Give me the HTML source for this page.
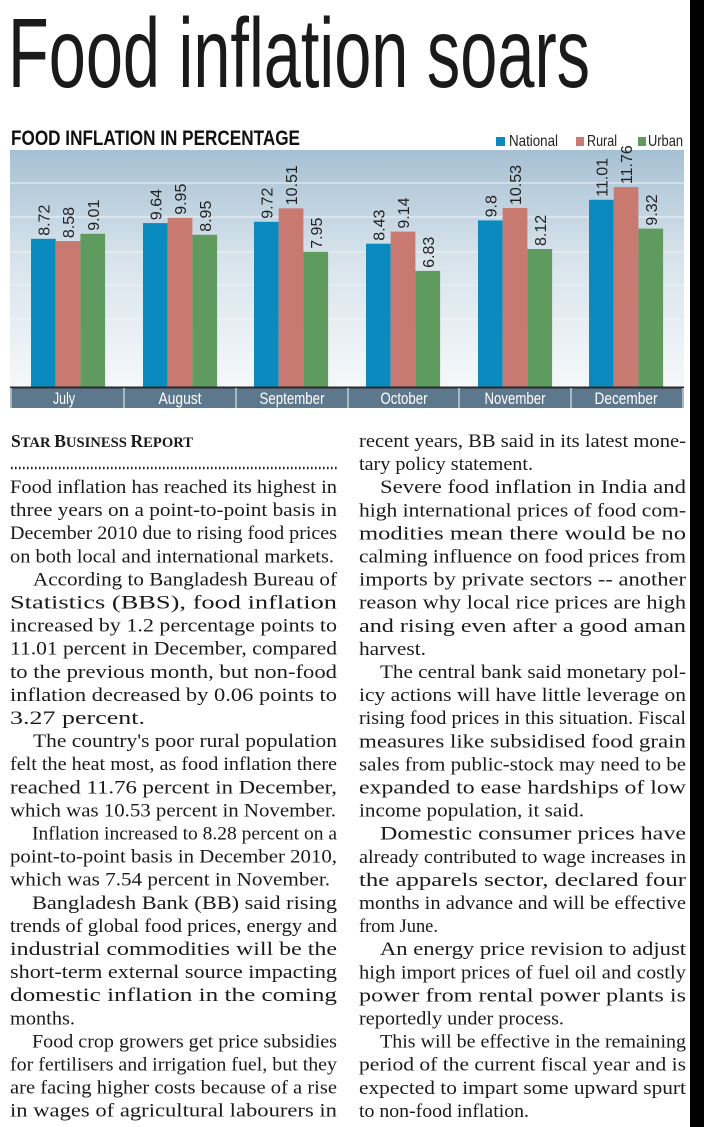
<!DOCTYPE html>
<html><head><meta charset="utf-8"><style>
html,body{margin:0;padding:0;background:#fff;width:704px;height:1127px;overflow:hidden}
svg{display:block}
.b{font-family:"Liberation Serif",serif;font-size:19px;fill:#1a1a1a}
.v{font-family:"Liberation Sans",sans-serif;font-size:16px;fill:#222}
.m{font-family:"Liberation Sans Narrow","Liberation Sans",sans-serif;font-size:17px;fill:#fff}
</style></head><body>
<svg width="704" height="1127" viewBox="0 0 704 1127" xmlns="http://www.w3.org/2000/svg">
<defs>
<linearGradient id="bg" x1="0" y1="0" x2="0" y2="1">
<stop offset="0" stop-color="#a6c0d3"/><stop offset="0.45" stop-color="#d7e3eb"/><stop offset="1" stop-color="#f5f8fa"/>
</linearGradient>
</defs>
<rect x="690" y="0" width="14" height="1127" fill="#000"/>
<text x="8" y="87" font-family="Liberation Sans Narrow, Liberation Sans, sans-serif" font-size="98" fill="#1a1a1a" textLength="582" lengthAdjust="spacingAndGlyphs">Food inflation soars</text>
<text x="11" y="145" font-family="Liberation Sans Narrow, Liberation Sans, sans-serif" font-weight="bold" font-size="21" fill="#111" textLength="289" lengthAdjust="spacingAndGlyphs">FOOD INFLATION IN PERCENTAGE</text>
<rect x="496" y="137" width="9" height="9" fill="#0a8bbf"/>
<text x="509" y="146" font-family="Liberation Sans Narrow, Liberation Sans, sans-serif" font-size="16" fill="#222" textLength="49" lengthAdjust="spacingAndGlyphs">National</text>
<rect x="576" y="137" width="8" height="9" fill="#c97a70"/>
<text x="587" y="146" font-family="Liberation Sans Narrow, Liberation Sans, sans-serif" font-size="16" fill="#222" textLength="30" lengthAdjust="spacingAndGlyphs">Rural</text>
<rect x="638" y="137" width="8" height="9" fill="#5f9a5e"/>
<text x="648" y="146" font-family="Liberation Sans Narrow, Liberation Sans, sans-serif" font-size="16" fill="#222" textLength="35" lengthAdjust="spacingAndGlyphs">Urban</text>
<rect x="10" y="150" width="674" height="238" fill="url(#bg)"/>
<g stroke="#eef3f6" stroke-width="1">
<line x1="10" y1="183" x2="684" y2="183"/><line x1="10" y1="217" x2="684" y2="217"/><line x1="10" y1="252" x2="684" y2="252"/><line x1="10" y1="285" x2="684" y2="285"/><line x1="10" y1="319" x2="684" y2="319"/><line x1="10" y1="353" x2="684" y2="353"/>
</g>
<g>
<rect x="31" y="238.8" width="24.7" height="148.2" fill="#0a8bbf"/><rect x="55.7" y="241.1" width="24.7" height="145.9" fill="#c97a70"/><rect x="80.4" y="233.8" width="24.7" height="153.2" fill="#5f9a5e"/>
<rect x="143" y="223.1" width="24.7" height="163.9" fill="#0a8bbf"/><rect x="167.7" y="217.8" width="24.7" height="169.2" fill="#c97a70"/><rect x="192.4" y="234.8" width="24.7" height="152.2" fill="#5f9a5e"/>
<rect x="254" y="221.8" width="24.7" height="165.2" fill="#0a8bbf"/><rect x="278.7" y="208.3" width="24.7" height="178.7" fill="#c97a70"/><rect x="303.4" y="251.8" width="24.7" height="135.2" fill="#5f9a5e"/>
<rect x="366" y="243.7" width="24.7" height="143.3" fill="#0a8bbf"/><rect x="390.7" y="231.6" width="24.7" height="155.4" fill="#c97a70"/><rect x="415.4" y="270.9" width="24.7" height="116.1" fill="#5f9a5e"/>
<rect x="478" y="220.4" width="24.7" height="166.6" fill="#0a8bbf"/><rect x="502.7" y="208" width="24.7" height="179" fill="#c97a70"/><rect x="527.4" y="249" width="24.7" height="138" fill="#5f9a5e"/>
<rect x="589" y="199.8" width="24.7" height="187.2" fill="#0a8bbf"/><rect x="613.7" y="187.1" width="24.7" height="199.9" fill="#c97a70"/><rect x="638.4" y="228.6" width="24.7" height="158.4" fill="#5f9a5e"/>
</g>
<g class="v">
<text transform="translate(49.4,235.8) rotate(-90)">8.72</text>
<text transform="translate(74.1,238.1) rotate(-90)">8.58</text>
<text transform="translate(98.8,230.8) rotate(-90)">9.01</text>
<text transform="translate(161.4,220.1) rotate(-90)">9.64</text>
<text transform="translate(186.1,214.8) rotate(-90)">9.95</text>
<text transform="translate(210.8,231.8) rotate(-90)">8.95</text>
<text transform="translate(272.4,218.8) rotate(-90)">9.72</text>
<text transform="translate(297.1,205.3) rotate(-90)">10.51</text>
<text transform="translate(321.8,248.8) rotate(-90)">7.95</text>
<text transform="translate(384.4,240.7) rotate(-90)">8.43</text>
<text transform="translate(409.1,228.6) rotate(-90)">9.14</text>
<text transform="translate(433.8,267.9) rotate(-90)">6.83</text>
<text transform="translate(496.4,217.4) rotate(-90)">9.8</text>
<text transform="translate(521.1,205) rotate(-90)">10.53</text>
<text transform="translate(545.8,246) rotate(-90)">8.12</text>
<text transform="translate(607.4,196.8) rotate(-90)">11.01</text>
<text transform="translate(632.1,184.1) rotate(-90)">11.76</text>
<text transform="translate(656.8,225.6) rotate(-90)">9.32</text>
</g>
<rect x="10" y="388" width="674" height="20" fill="#5d778d"/>
<line x1="10" y1="387.5" x2="684" y2="387.5" stroke="#2b2b2b" stroke-width="2"/>
<g stroke="#c3cdd6" stroke-width="1.5">
<line x1="11" y1="388" x2="11" y2="408"/><line x1="124" y1="388" x2="124" y2="408"/><line x1="236" y1="388" x2="236" y2="408"/><line x1="348" y1="388" x2="348" y2="408"/><line x1="459" y1="388" x2="459" y2="408"/><line x1="571" y1="388" x2="571" y2="408"/><line x1="683" y1="388" x2="683" y2="408"/>
</g>
<g class="m" text-anchor="middle">
<text x="64" y="404" textLength="22" lengthAdjust="spacingAndGlyphs">July</text>
<text x="180" y="404" textLength="43" lengthAdjust="spacingAndGlyphs">August</text>
<text x="292" y="404" textLength="65" lengthAdjust="spacingAndGlyphs">September</text>
<text x="404" y="404" textLength="47" lengthAdjust="spacingAndGlyphs">October</text>
<text x="515" y="404" textLength="61" lengthAdjust="spacingAndGlyphs">November</text>
<text x="626" y="404" textLength="63" lengthAdjust="spacingAndGlyphs">December</text>
</g>
<text x="11" y="447" font-family="Liberation Serif, serif" font-weight="bold" font-size="15" fill="#1a1a1a" textLength="182" lengthAdjust="spacingAndGlyphs"><tspan font-size="18">S</tspan>TAR <tspan font-size="18">B</tspan>USINESS <tspan font-size="18">R</tspan>EPORT</text>
<line x1="11" y1="468" x2="337" y2="468" stroke="#222" stroke-width="2.5" stroke-dasharray="1.6 2.4"/>
<g class="b">
<text x="10" y="493" textLength="327" lengthAdjust="spacingAndGlyphs">Food inflation has reached its highest in</text>
<text x="10" y="516.1" textLength="327" lengthAdjust="spacingAndGlyphs">three years on a point-to-point basis in</text>
<text x="10" y="539.2" textLength="327" lengthAdjust="spacingAndGlyphs">December 2010 due to rising food prices</text>
<text x="10" y="562.3" textLength="324" lengthAdjust="spacingAndGlyphs">on both local and international markets.</text>
<text x="33" y="585.4" textLength="304" lengthAdjust="spacingAndGlyphs">According to Bangladesh Bureau of</text>
<text x="10" y="608.5" textLength="327" lengthAdjust="spacingAndGlyphs">Statistics (BBS), food inflation</text>
<text x="10" y="631.6" textLength="327" lengthAdjust="spacingAndGlyphs">increased by 1.2 percentage points to</text>
<text x="10" y="654.7" textLength="327" lengthAdjust="spacingAndGlyphs">11.01 percent in December, compared</text>
<text x="10" y="677.8" textLength="327" lengthAdjust="spacingAndGlyphs">to the previous month, but non-food</text>
<text x="10" y="700.9" textLength="327" lengthAdjust="spacingAndGlyphs">inflation decreased by 0.06 points to</text>
<text x="10" y="724" textLength="135" lengthAdjust="spacingAndGlyphs">3.27 percent.</text>
<text x="33" y="747.1" textLength="304" lengthAdjust="spacingAndGlyphs">The country's poor rural population</text>
<text x="10" y="770.2" textLength="327" lengthAdjust="spacingAndGlyphs">felt the heat most, as food inflation there</text>
<text x="10" y="793.3" textLength="327" lengthAdjust="spacingAndGlyphs">reached 11.76 percent in December,</text>
<text x="10" y="816.4" textLength="326" lengthAdjust="spacingAndGlyphs">which was 10.53 percent in November.</text>
<text x="32" y="839.5" textLength="305" lengthAdjust="spacingAndGlyphs">Inflation increased to 8.28 percent on a</text>
<text x="10" y="862.6" textLength="327" lengthAdjust="spacingAndGlyphs">point-to-point basis in December 2010,</text>
<text x="10" y="885.7" textLength="320" lengthAdjust="spacingAndGlyphs">which was 7.54 percent in November.</text>
<text x="32" y="908.8" textLength="305" lengthAdjust="spacingAndGlyphs">Bangladesh Bank (BB) said rising</text>
<text x="10" y="931.9" textLength="327" lengthAdjust="spacingAndGlyphs">trends of global food prices, energy and</text>
<text x="10" y="955" textLength="327" lengthAdjust="spacingAndGlyphs">industrial commodities will be the</text>
<text x="10" y="978.1" textLength="327" lengthAdjust="spacingAndGlyphs">short-term external source impacting</text>
<text x="10" y="1001.2" textLength="327" lengthAdjust="spacingAndGlyphs">domestic inflation in the coming</text>
<text x="10" y="1024.3" textLength="65" lengthAdjust="spacingAndGlyphs">months.</text>
<text x="32" y="1047.4" textLength="305" lengthAdjust="spacingAndGlyphs">Food crop growers get price subsidies</text>
<text x="10" y="1070.5" textLength="327" lengthAdjust="spacingAndGlyphs">for fertilisers and irrigation fuel, but they</text>
<text x="10" y="1093.6" textLength="327" lengthAdjust="spacingAndGlyphs">are facing higher costs because of a rise</text>
<text x="10" y="1116.7" textLength="327" lengthAdjust="spacingAndGlyphs">in wages of agricultural labourers in</text>

<text x="359" y="447" textLength="327" lengthAdjust="spacingAndGlyphs">recent years, BB said in its latest mone-</text>
<text x="359" y="470.1" textLength="174" lengthAdjust="spacingAndGlyphs">tary policy statement.</text>
<text x="380" y="493.2" textLength="306" lengthAdjust="spacingAndGlyphs">Severe food inflation in India and</text>
<text x="359" y="516.3" textLength="327" lengthAdjust="spacingAndGlyphs">high international prices of food com-</text>
<text x="359" y="539.4" textLength="327" lengthAdjust="spacingAndGlyphs">modities mean there would be no</text>
<text x="359" y="562.5" textLength="327" lengthAdjust="spacingAndGlyphs">calming influence on food prices from</text>
<text x="359" y="585.6" textLength="327" lengthAdjust="spacingAndGlyphs">imports by private sectors -- another</text>
<text x="359" y="608.7" textLength="327" lengthAdjust="spacingAndGlyphs">reason why local rice prices are high</text>
<text x="359" y="631.8" textLength="327" lengthAdjust="spacingAndGlyphs">and rising even after a good aman</text>
<text x="359" y="654.9" textLength="67" lengthAdjust="spacingAndGlyphs">harvest.</text>
<text x="380" y="678" textLength="306" lengthAdjust="spacingAndGlyphs">The central bank said monetary pol-</text>
<text x="359" y="701.1" textLength="327" lengthAdjust="spacingAndGlyphs">icy actions will have little leverage on</text>
<text x="359" y="724.2" textLength="327" lengthAdjust="spacingAndGlyphs">rising food prices in this situation. Fiscal</text>
<text x="359" y="747.3" textLength="327" lengthAdjust="spacingAndGlyphs">measures like subsidised food grain</text>
<text x="359" y="770.4" textLength="327" lengthAdjust="spacingAndGlyphs">sales from public-stock may need to be</text>
<text x="359" y="793.5" textLength="327" lengthAdjust="spacingAndGlyphs">expanded to ease hardships of low</text>
<text x="359" y="816.6" textLength="225" lengthAdjust="spacingAndGlyphs">income population, it said.</text>
<text x="380" y="839.7" textLength="306" lengthAdjust="spacingAndGlyphs">Domestic consumer prices have</text>
<text x="359" y="862.8" textLength="327" lengthAdjust="spacingAndGlyphs">already contributed to wage increases in</text>
<text x="359" y="885.9" textLength="327" lengthAdjust="spacingAndGlyphs">the apparels sector, declared four</text>
<text x="359" y="909" textLength="327" lengthAdjust="spacingAndGlyphs">months in advance and will be effective</text>
<text x="359" y="932.1" textLength="79" lengthAdjust="spacingAndGlyphs">from June.</text>
<text x="380" y="955.2" textLength="306" lengthAdjust="spacingAndGlyphs">An energy price revision to adjust</text>
<text x="359" y="978.3" textLength="327" lengthAdjust="spacingAndGlyphs">high import prices of fuel oil and costly</text>
<text x="359" y="1001.4" textLength="327" lengthAdjust="spacingAndGlyphs">power from rental power plants is</text>
<text x="359" y="1024.5" textLength="205" lengthAdjust="spacingAndGlyphs">reportedly under process.</text>
<text x="380" y="1047.6" textLength="306" lengthAdjust="spacingAndGlyphs">This will be effective in the remaining</text>
<text x="359" y="1070.7" textLength="327" lengthAdjust="spacingAndGlyphs">period of the current fiscal year and is</text>
<text x="359" y="1093.8" textLength="327" lengthAdjust="spacingAndGlyphs">expected to impart some upward spurt</text>
<text x="359" y="1116.9" textLength="170" lengthAdjust="spacingAndGlyphs">to non-food inflation.</text>
</g>
</svg>
</body></html>
